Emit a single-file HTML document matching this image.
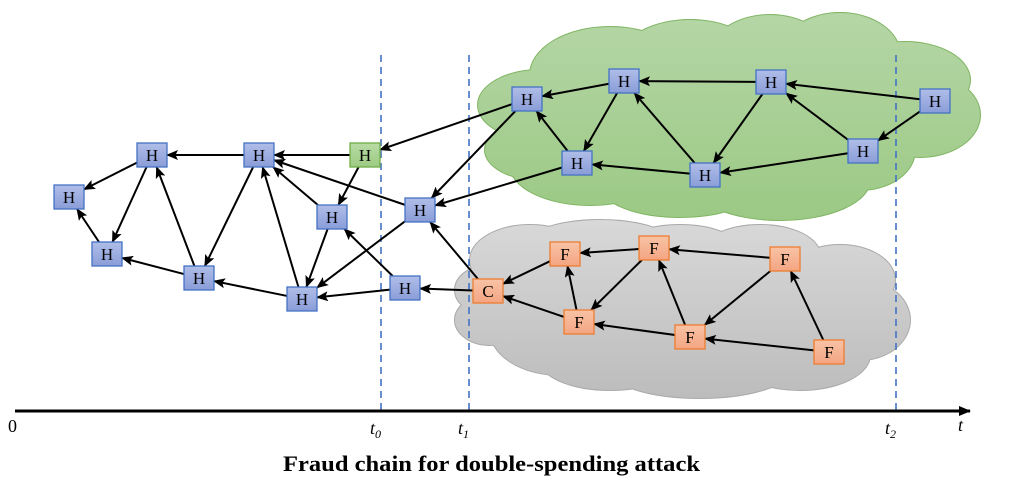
<!DOCTYPE html>
<html><head><meta charset="utf-8"><style>
html,body{margin:0;padding:0;background:#fff;}
svg{display:block;}
</style></head><body>
<svg id="s" width="1011" height="483" viewBox="0 0 1011 483" xmlns="http://www.w3.org/2000/svg" font-family="Liberation Serif, serif">
<defs>
<linearGradient id="gg" gradientUnits="userSpaceOnUse" x1="0" y1="12" x2="0" y2="215"><stop offset="0" stop-color="#b5d6a6"/><stop offset="1" stop-color="#9cc985"/></linearGradient>
<linearGradient id="gr" gradientUnits="userSpaceOnUse" x1="0" y1="222" x2="0" y2="400"><stop offset="0" stop-color="#d8d8d8"/><stop offset="1" stop-color="#bcbcbc"/></linearGradient>
<linearGradient id="bl" x1="0" y1="0" x2="0" y2="1"><stop offset="0" stop-color="#b0bde8"/><stop offset="1" stop-color="#8a9dd8"/></linearGradient>
<linearGradient id="gn" x1="0" y1="0" x2="0" y2="1"><stop offset="0" stop-color="#b8dba5"/><stop offset="1" stop-color="#9ccb82"/></linearGradient>
<linearGradient id="or" x1="0" y1="0" x2="0" y2="1"><stop offset="0" stop-color="#f8c3a6"/><stop offset="1" stop-color="#f4a582"/></linearGradient>
<marker id="ah" markerWidth="12" markerHeight="10" refX="11" refY="5" orient="auto" markerUnits="userSpaceOnUse"><path d="M0,0 L12,5 L0,10 L2.5,5 z" fill="#000"/></marker>
<marker id="ax" markerWidth="12" markerHeight="10" refX="11" refY="5" orient="auto" markerUnits="userSpaceOnUse"><path d="M0,0 L12,5 L0,10 z" fill="#000"/></marker>
</defs>
<g id="clouds"></g>
<g stroke="#4472c4" stroke-width="1.6" stroke-dasharray="7,5">
<line x1="381" y1="55" x2="381" y2="410"/>
<line x1="469" y1="55" x2="469" y2="410"/>
<line x1="896" y1="55" x2="896" y2="410"/>
</g>
<g id="edges" stroke="#000" stroke-width="2" fill="none"></g>
<g id="nodes" font-size="17" text-anchor="middle"></g>
<line x1="15" y1="411" x2="970" y2="411" stroke="#000" stroke-width="3" marker-end="url(#ax)"/>
<g font-size="18" font-style="italic">
<text x="8" y="432" font-style="normal">0</text>
<text x="370" y="434">t<tspan font-size="12" dy="4">0</tspan></text>
<text x="458" y="434">t<tspan font-size="12" dy="4">1</tspan></text>
<text x="885" y="434">t<tspan font-size="12" dy="4">2</tspan></text>
<text x="958" y="431">t</text>
</g>
<text x="283" y="471" font-size="22" font-weight="bold" textLength="417" lengthAdjust="spacingAndGlyphs">Fraud chain for double-spending attack</text>
</svg>
<script>
var NS="http://www.w3.org/2000/svg";
function el(t,a,p){var e=document.createElementNS(NS,t);for(var k in a)e.setAttribute(k,a[k]);p.appendChild(e);return e;}
var cg=document.getElementById('clouds');
function cloud(list,fill,stroke){
 list.forEach(function(c){el('ellipse',{cx:c[0],cy:c[1],rx:c[2],ry:c[3],fill:'none',stroke:stroke,'stroke-width':2},cg);});
 list.forEach(function(c){el('ellipse',{cx:c[0],cy:c[1],rx:c[2],ry:c[3],fill:fill},cg);});
}
cloud([[540,105,62,35],[610,75,80,48],[690,60,70,40],[770,55,60,40],[840,55,60,42],[905,80,65,38],[920,115,60,42],[860,150,55,40],[780,180,90,40],[680,185,80,32],[590,165,80,40],[540,150,55,30],[700,120,200,60]],'url(#gg)','#7fb562');
cloud([[530,260,60,35],[490,290,35,25],[490,320,35,25],[560,330,70,45],[600,250,80,30],[680,250,60,25],[760,255,60,30],[840,280,55,35],[860,320,50,40],[800,355,70,35],[700,370,90,28],[610,360,70,30],[680,305,190,60]],'url(#gr)','#aaaaaa');
var N={
h1:[69,197,'b','H'],h2:[152,155,'b','H'],h3:[107,254,'b','H'],h4:[199,278,'b','H'],h5:[259,155,'b','H'],h6:[302,299,'b','H'],h7:[332,217,'b','H'],h8:[365,155,'g','H'],h9:[420,210,'b','H'],h10:[405,288,'b','H'],
c:[488,291,'o','C'],f1:[565,254,'o','F'],f2:[654,248,'o','F'],f3:[785,259,'o','F'],f4:[579,322,'o','F'],f5:[690,337,'o','F'],f6:[829,352,'o','F'],
ha:[527,99,'b','H'],hb:[624,81,'b','H'],hc:[771,82,'b','H'],hd:[935,101,'b','H'],he:[577,163,'b','H'],hf:[705,175,'b','H'],hg:[863,151,'b','H']};
var E=[['h2','h1'],['h5','h2'],['h8','h5'],['h2','h3'],['h3','h1'],['h4','h2'],['h4','h3'],['h5','h4'],['h6','h5'],['h6','h4'],['h7','h5'],['h7','h6'],['h8','h7'],['h9','h5'],['h9','h6'],['h10','h7'],['h10','h6'],['c','h10'],['c','h9'],['ha','h8'],['ha','h9'],['he','h9'],
['f1','c'],['f4','c'],['f4','f1'],['f2','f1'],['f2','f4'],['f5','f2'],['f5','f4'],['f3','f2'],['f3','f5'],['f6','f3'],['f6','f5'],
['hb','ha'],['hc','hb'],['hd','hc'],['hd','hg'],['hg','hc'],['hb','he'],['he','ha'],['hf','hb'],['hc','hf'],['hg','hf'],['hf','he']];
var W=15,H=12;
function clip(x,y,dx,dy){var t=Math.min(dx?W/Math.abs(dx):1e9,dy?H/Math.abs(dy):1e9);return [x+dx*t,y+dy*t];}
var eg=document.getElementById('edges');
E.forEach(function(e){var a=N[e[0]],b=N[e[1]];var dx=b[0]-a[0],dy=b[1]-a[1];
 var p=clip(a[0],a[1],dx,dy),q=clip(b[0],b[1],-dx,-dy);
 el('line',{x1:p[0],y1:p[1],x2:q[0],y2:q[1],'marker-end':'url(#ah)'},eg);});
var ng=document.getElementById('nodes');
var F={b:['url(#bl)','#4472c4'],g:['url(#gn)','#70ad47'],o:['url(#or)','#ed7d31']};
for(var k in N){var n=N[k];el('rect',{x:n[0]-W,y:n[1]-H,width:30,height:24,fill:F[n[2]][0],stroke:F[n[2]][1],'stroke-width':1.3},ng);
 var t=el('text',{x:n[0],y:n[1]+6},ng);t.textContent=n[3];}
</script>
</body></html>
